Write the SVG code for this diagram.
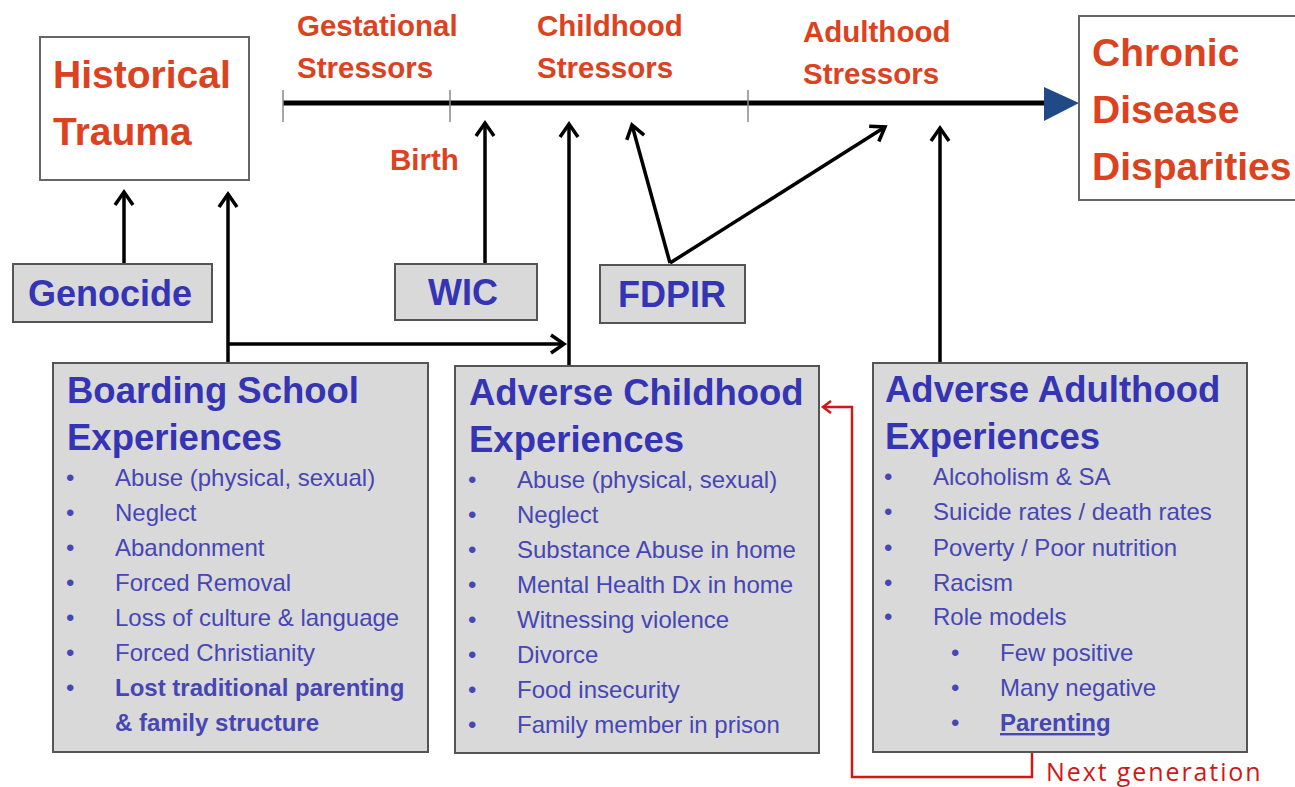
<svg xmlns="http://www.w3.org/2000/svg" width="1295" height="787" viewBox="0 0 1295 787">
<style>
.red{font-family:"Liberation Sans",Arial,sans-serif;font-weight:bold;fill:#dc4220}
.big{font-size:39px}
.mid{font-size:29.5px}
.gbox{fill:#d9d9d9;stroke:#555;stroke-width:2}
.wbox{fill:#fff;stroke:#666;stroke-width:2}
.ttl{font-family:"Liberation Sans",Arial,sans-serif;font-weight:bold;fill:#3434b4;font-size:36.5px}
.lbl{font-family:"Liberation Sans",Arial,sans-serif;font-weight:bold;fill:#3434b4;font-size:36px}
.it{font-family:"Liberation Sans",Arial,sans-serif;fill:#4646b4;font-size:24px}
.b{font-weight:bold}
.con{fill:none;stroke:#000;stroke-width:3.5}
.tick{stroke:#888;stroke-width:1.5}
</style>
<defs>
<marker id="ah" markerUnits="userSpaceOnUse" markerWidth="26" markerHeight="26" refX="16" refY="11" orient="auto">
<path d="M3,2 L16,11 L3,20" fill="none" stroke="#000" stroke-width="3.5"/>
</marker>
<marker id="ahr" markerUnits="userSpaceOnUse" markerWidth="16" markerHeight="16" refX="10" refY="7" orient="auto">
<path d="M2,1 L10,7 L2,13" fill="none" stroke="#d01818" stroke-width="2.5"/>
</marker>
</defs>

<g id="connectors">
<line x1="283" y1="103" x2="1050" y2="103" stroke="#000" stroke-width="5"/>
<polygon points="1044,87 1079,103 1044,121" fill="#1f4a85"/>
<line class="tick" x1="283" y1="90" x2="283" y2="122"/>
<line class="tick" x1="450" y1="90" x2="450" y2="122"/>
<line class="tick" x1="748" y1="90" x2="748" y2="122"/>
<line class="con" x1="124" y1="264" x2="124" y2="192" marker-end="url(#ah)"/>
<line class="con" x1="228" y1="363" x2="228" y2="194" marker-end="url(#ah)"/>
<line class="con" x1="228" y1="344" x2="564" y2="344" marker-end="url(#ah)"/>
<line class="con" x1="569" y1="366" x2="569" y2="124" marker-end="url(#ah)"/>
<line class="con" x1="485" y1="264" x2="485" y2="123" marker-end="url(#ah)"/>
<line class="con" x1="670" y1="263" x2="632" y2="125" marker-end="url(#ah)"/>
<line class="con" x1="670" y1="263" x2="885" y2="127" marker-end="url(#ah)"/>
<line class="con" x1="940" y1="363" x2="940" y2="128" marker-end="url(#ah)"/>
<polyline points="1032,738 1032,777 852,777 852,407 823,407" fill="none" stroke="#d01818" stroke-width="2.5" marker-end="url(#ahr)"/>
</g>

<g id="historical-trauma">
<rect class="wbox" x="40" y="37" width="209" height="143"/>
<text class="red big" x="53" y="88">Historical</text>
<text class="red big" x="53" y="145">Trauma</text>
</g>

<g id="chronic-disease">
<rect class="wbox" x="1079" y="16" width="230" height="184"/>
<text class="red big" x="1092" y="66">Chronic</text>
<text class="red big" x="1092" y="123">Disease</text>
<text class="red big" x="1092" y="180">Disparities</text>
</g>

<g id="timeline-labels">
<text class="red mid" x="297" y="36">Gestational</text>
<text class="red mid" x="297" y="78">Stressors</text>
<text class="red mid" x="537" y="36">Childhood</text>
<text class="red mid" x="537" y="78">Stressors</text>
<text class="red mid" x="803" y="42">Adulthood</text>
<text class="red mid" x="803" y="84">Stressors</text>
<text class="red mid" x="390" y="170">Birth</text>
</g>

<g id="genocide">
<rect class="gbox" x="13" y="264" width="199" height="58"/>
<text class="lbl" x="28" y="306">Genocide</text>
</g>

<g id="wic">
<rect class="gbox" x="395" y="264" width="142" height="56"/>
<text class="lbl" x="463" y="305" text-anchor="middle">WIC</text>
</g>

<g id="fdpir">
<rect class="gbox" x="600" y="265" width="145" height="58"/>
<text class="lbl" x="672" y="307" text-anchor="middle">FDPIR</text>
</g>

<g id="boarding-school">
<rect class="gbox" x="53" y="363" width="375" height="389"/>
<text class="ttl" x="67" y="403">Boarding School</text>
<text class="ttl" x="67" y="450">Experiences</text>
<g class="it">
<text x="66" y="486">•</text><text x="115" y="486">Abuse (physical, sexual)</text>
<text x="66" y="521">•</text><text x="115" y="521">Neglect</text>
<text x="66" y="556">•</text><text x="115" y="556">Abandonment</text>
<text x="66" y="591">•</text><text x="115" y="591">Forced Removal</text>
<text x="66" y="626">•</text><text x="115" y="626">Loss of culture &amp; language</text>
<text x="66" y="661">•</text><text x="115" y="661">Forced Christianity</text>
<text x="66" y="696">•</text><text x="115" y="696" class="b">Lost traditional parenting</text>
<text x="115" y="731" class="b">&amp; family structure</text>
</g>
</g>

<g id="adverse-childhood">
<rect class="gbox" x="455" y="366" width="364" height="387"/>
<text class="ttl" x="469" y="405">Adverse Childhood</text>
<text class="ttl" x="469" y="452">Experiences</text>
<g class="it">
<text x="468" y="488">•</text><text x="517" y="488">Abuse (physical, sexual)</text>
<text x="468" y="523">•</text><text x="517" y="523">Neglect</text>
<text x="468" y="558">•</text><text x="517" y="558">Substance Abuse in home</text>
<text x="468" y="593">•</text><text x="517" y="593">Mental Health Dx  in home</text>
<text x="468" y="628">•</text><text x="517" y="628">Witnessing violence</text>
<text x="468" y="663">•</text><text x="517" y="663">Divorce</text>
<text x="468" y="698">•</text><text x="517" y="698">Food insecurity</text>
<text x="468" y="733">•</text><text x="517" y="733">Family member in prison</text>
</g>
</g>

<g id="adverse-adulthood">
<rect class="gbox" x="873" y="363" width="374" height="389"/>
<text class="ttl" x="885" y="402">Adverse Adulthood</text>
<text class="ttl" x="885" y="449">Experiences</text>
<g class="it">
<text x="884" y="485">•</text><text x="933" y="485">Alcoholism &amp; SA</text>
<text x="884" y="520">•</text><text x="933" y="520">Suicide rates / death rates</text>
<text x="884" y="556">•</text><text x="933" y="556">Poverty / Poor nutrition</text>
<text x="884" y="591">•</text><text x="933" y="591">Racism</text>
<text x="884" y="625">•</text><text x="933" y="625">Role models</text>
<text x="951" y="661">•</text><text x="1000" y="661">Few positive</text>
<text x="951" y="696">•</text><text x="1000" y="696">Many negative</text>
<text x="951" y="731">•</text><text x="1000" y="731" class="b" text-decoration="underline">Parenting</text>
</g>
</g>

<g id="next-generation">
<text x="1046" y="781" font-family="'Open Sans','Liberation Sans',sans-serif" font-size="25" letter-spacing="1.9" fill="#d01818">Next generation</text>
</g>
</svg>
